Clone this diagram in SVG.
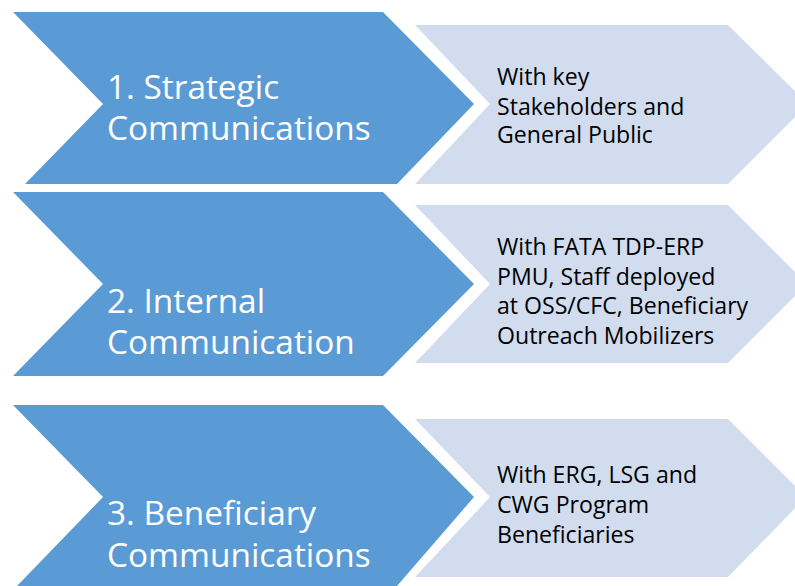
<svg xmlns="http://www.w3.org/2000/svg" width="795" height="586" viewBox="0 0 795 586">
  <style>
    .stage { fill: #5B9BD5; }
    .detail { fill: #D1DDEF; }
    .title { font-family: "Open Sans", "Noto Sans", "Liberation Sans", sans-serif; font-size: 33.4px; fill: #FFFFFF; }
    .desc { font-family: "Open Sans", "Noto Sans", "Liberation Sans", sans-serif; font-size: 23.1px; fill: #000000; }
  </style>
  <rect width="795" height="586" fill="#FFFFFF"/>

  <!-- Row 1 -->
  <g id="stage-1">
    <polygon class="stage" points="13,12 383,12 474,104 397,184 25,184 103,104"/>
    <text class="title" x="107" y="99">1. Strategic</text>
    <text class="title" x="107" y="140">Communications</text>
  </g>
  <g id="detail-1">
    <polygon class="detail" points="415,25 728,25 808,104 728,184 415,184 490,104"/>
    <text class="desc" x="497" y="85">With key</text>
    <text class="desc" x="497" y="115">Stakeholders and</text>
    <text class="desc" x="497" y="143">General Public</text>
  </g>

  <!-- Row 2 -->
  <g id="stage-2">
    <polygon class="stage" points="13,192 383,192 474,284 383,376 13,376 103,284"/>
    <text class="title" x="107" y="313">2. Internal</text>
    <text class="title" x="107" y="354">Communication</text>
  </g>
  <g id="detail-2">
    <polygon class="detail" points="415,205 728,205 807,284 728,363 415,363 490,284"/>
    <text class="desc" x="497" y="255">With FATA TDP-ERP</text>
    <text class="desc" x="497" y="285">PMU, Staff deployed</text>
    <text class="desc" x="497" y="314">at OSS/CFC, Beneficiary</text>
    <text class="desc" x="497" y="344">Outreach Mobilizers</text>
  </g>

  <!-- Row 3 -->
  <g id="stage-3">
    <polygon class="stage" points="13,405 383,405 474,497 397,586 17,586 103,497"/>
    <text class="title" x="107" y="525">3. Beneficiary</text>
    <text class="title" x="107" y="567">Communications</text>
  </g>
  <g id="detail-3">
    <polygon class="detail" points="415,419 728,419 806,497 728,577 415,577 490,497"/>
    <text class="desc" x="497" y="483">With ERG, LSG and</text>
    <text class="desc" x="497" y="513">CWG Program</text>
    <text class="desc" x="497" y="543">Beneficiaries</text>
  </g>
</svg>
